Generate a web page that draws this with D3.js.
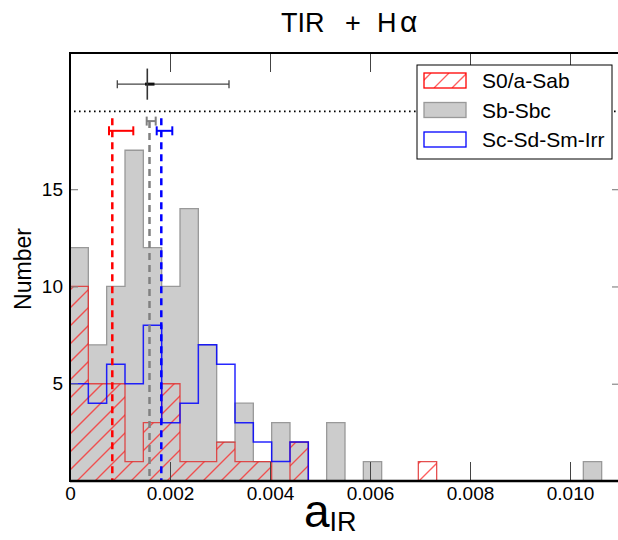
<!DOCTYPE html>
<html><head><meta charset="utf-8">
<script src="https://cdn.jsdelivr.net/npm/d3@7"></script>
<style>
body{margin:0;background:#fff}
svg{display:block}
text{font-family:"Liberation Sans",Arial,Helvetica,sans-serif;fill:#000}
</style>
</head><body><div id="chart"></div>
<script>
// ---------- data ----------
const categories = ["S0/a-Sab", "Sb-Sbc", "Sc-Sd-Sm-Irr"];
const nBins = 30;
const xDomain = [0, 0.011];
const yDomain = [0, 22];
const countsS0 = [10,5,5,1,3,5,1,1,2,1,1,0,2,0,0,0,0,0,0,1,0,0,0,0,0,0,0,0,0,0];
const countsSb = [12,7,10,17,12,10,14,7,2,4,1,3,2,0,3,0,1,0,0,0,0,0,0,0,0,0,0,0,1,0];
const countsSc = [5,4,6,5,8,3,4,7,6,3,2,1,2,0,0,0,0,0,0,0,0,0,0,0,0,0,0,0,0,0];
const meanValues = [0.000846, 0.00159, 0.001826];
const meanErrLow = [0.00078, 0.001534, 0.001734];
const meanErrHigh = [0.001266, 0.001714, 0.002046];
const meanErrY = [18.0, 18.5, 18.0];
const meanLineTop = [18.65, 18.5, 18.65];
const refPoint = {x: 0.001546, y: 20.4, xLow: 0.000946, xHigh: 0.00318, yErr: 0.8, xInLow: 0.0015, xInHigh: 0.00169};
const dottedLevel = 19;
const xTickValues = [0, 0.002, 0.004, 0.006, 0.008, 0.010];
const xTickLabels = ["0", "0.002", "0.004", "0.006", "0.008", "0.010"];
const yTickValues = [5, 10, 15];
const yTickLabels = ["5", "10", "15"];

// ---------- layout ----------
const W = 618, H = 540;
const L = 70, R = 620, T = 53, B = 481;
const svg = d3.select("#chart").append("svg").attr("width", W).attr("height", H);
const x = d3.scaleLinear().domain(xDomain).range([L, R]);
const y = d3.scaleLinear().domain(yDomain).range([B, T]);
const binW = (xDomain[1] - xDomain[0]) / nBins;
const edge = i => xDomain[0] + i * binW;
const HATCH_STEP = 18, HATCH_COLOR = "#ff1a1a";

const defs = svg.append("defs");
const clip = defs.append("clipPath").attr("id", "plotclip");
clip.append("rect").attr("x", L).attr("y", T).attr("width", R - L).attr("height", B - T);

function stepPoints(counts) {
  const pts = [[edge(0), 0]];
  counts.forEach((c, i) => { pts.push([edge(i), c]); pts.push([edge(i + 1), c]); });
  pts.push([edge(counts.length), 0]);
  return pts;
}
const line = d3.line().x(d => x(d[0])).y(d => y(d[1]));

// draws "/" hatch lines inside a clip region
function hatchInto(sel, clipId, x0, y0, x1, y1) {
  const hg = sel.append("g").attr("clip-path", `url(#${clipId})`);
  for (let s = Math.floor((x0 + y0) / HATCH_STEP) * HATCH_STEP; s <= x1 + y1 + HATCH_STEP; s += HATCH_STEP) {
    hg.append("line").attr("x1", s - y1).attr("y1", y1).attr("x2", s - y0).attr("y2", y0)
      .attr("stroke", HATCH_COLOR).attr("stroke-opacity", 0.7).attr("stroke-width", 1.3);
  }
  return hg;
}

const g = svg.append("g").attr("clip-path", "url(#plotclip)");

// Sb-Sbc filled gray
g.append("path").attr("d", line(stepPoints(countsSb)) + "Z")
  .attr("fill", "#cccccc").attr("stroke", "#999999").attr("stroke-width", 1.3);
// S0/a-Sab hatched
const s0Path = line(stepPoints(countsS0)) + "Z";
defs.append("clipPath").attr("id", "s0clip").append("path").attr("d", s0Path);
hatchInto(g, "s0clip", L, T, R, B);
g.append("path").attr("d", s0Path)
  .attr("fill", "none").attr("stroke", "#e03030").attr("stroke-opacity", 0.85).attr("stroke-width", 1.3);
// Sc-Sd-Sm-Irr step
g.append("path").attr("d", line(stepPoints(countsSc)))
  .attr("fill", "none").attr("stroke", "#0000ff").attr("stroke-opacity", 0.85).attr("stroke-width", 1.5);

// mean dashed lines and error bars
const meanColors = ["#ff0000", "#808080", "#0000ff"];
meanValues.forEach((m, i) => {
  g.append("line").attr("x1", x(m)).attr("x2", x(m)).attr("y1", y(meanLineTop[i])).attr("y2", y(0))
    .attr("stroke", meanColors[i]).attr("stroke-width", 2.5).attr("stroke-dasharray", "7,5");
  const ey = y(meanErrY[i]);
  g.append("line").attr("x1", x(meanErrLow[i])).attr("x2", x(meanErrHigh[i])).attr("y1", ey).attr("y2", ey)
    .attr("stroke", meanColors[i]).attr("stroke-width", 2);
  [meanErrLow[i], meanErrHigh[i]].forEach(v => {
    g.append("line").attr("x1", x(v)).attr("x2", x(v)).attr("y1", ey - 4.5).attr("y2", ey + 4.5)
      .attr("stroke", meanColors[i]).attr("stroke-width", 2);
  });
});

// dotted line
g.append("line").attr("x1", x(xDomain[0]) + 4).attr("x2", x(xDomain[1])).attr("y1", y(dottedLevel)).attr("y2", y(dottedLevel))
  .attr("stroke", "#000").attr("stroke-width", 1.6).attr("stroke-dasharray", "1.6,3.4");

// reference point with error bars
const ry = y(refPoint.y), rx = x(refPoint.x);
g.append("line").attr("x1", x(refPoint.xLow)).attr("x2", x(refPoint.xHigh)).attr("y1", ry).attr("y2", ry)
  .attr("stroke", "#444").attr("stroke-width", 1.3);
[refPoint.xLow, refPoint.xHigh].forEach(v => {
  g.append("line").attr("x1", x(v)).attr("x2", x(v)).attr("y1", ry - 4).attr("y2", ry + 4)
    .attr("stroke", "#444").attr("stroke-width", 1.3);
});
g.append("line").attr("x1", x(refPoint.xInLow)).attr("x2", x(refPoint.xInHigh)).attr("y1", ry).attr("y2", ry)
  .attr("stroke", "#111").attr("stroke-width", 3);
g.append("line").attr("x1", rx).attr("x2", rx).attr("y1", y(refPoint.y + refPoint.yErr)).attr("y2", y(refPoint.y - refPoint.yErr))
  .attr("stroke", "#333").attr("stroke-width", 1.6);

// ---------- axes ----------
const fmtX = v => xTickLabels[xTickValues.indexOf(v)];
const xb = svg.append("g").attr("transform", `translate(0,${B})`)
  .call(d3.axisBottom(x).tickValues(xTickValues).tickFormat(fmtX).tickSizeInner(-19).tickSizeOuter(0).tickPadding(6));
xb.select(".domain").remove();
xb.selectAll(".tick line").attr("stroke", "#444").attr("stroke-width", 1).filter(d => d === 0).remove();
xb.selectAll(".tick text").attr("font-size", 19).attr("font-family", "Liberation Sans, Arial, sans-serif");

const xt = svg.append("g").attr("transform", `translate(0,${T})`)
  .call(d3.axisTop(x).tickValues(xTickValues.filter(v => v > 0)).tickFormat("").tickSizeInner(-19).tickSizeOuter(0));
xt.select(".domain").remove();
xt.selectAll(".tick line").attr("stroke", "#444").attr("stroke-width", 1);

const fmtY = v => yTickLabels[yTickValues.indexOf(v)];
const yl = svg.append("g").attr("transform", `translate(${L},0)`)
  .call(d3.axisLeft(y).tickValues(yTickValues).tickFormat(fmtY).tickSizeInner(-8).tickSizeOuter(0).tickPadding(7));
yl.select(".domain").remove();
yl.selectAll(".tick line").attr("stroke", "#888").attr("stroke-width", 1.2);
yl.selectAll(".tick text").attr("font-size", 19).attr("font-family", "Liberation Sans, Arial, sans-serif");

const yr = svg.append("g").attr("transform", `translate(${R},0)`)
  .call(d3.axisRight(y).tickValues(yTickValues).tickFormat("").tickSizeInner(-8).tickSizeOuter(0));
yr.select(".domain").remove();
yr.selectAll(".tick line").attr("stroke", "#888").attr("stroke-width", 1.2);

// spines
svg.append("line").attr("x1", L).attr("x2", R).attr("y1", T).attr("y2", T).attr("stroke", "#000").attr("stroke-width", 2);
svg.append("line").attr("x1", L).attr("x2", R).attr("y1", B).attr("y2", B).attr("stroke", "#000").attr("stroke-width", 2.5);
svg.append("line").attr("x1", L).attr("x2", L).attr("y1", T - 1).attr("y2", B + 1).attr("stroke", "#000").attr("stroke-width", 2);
svg.append("line").attr("x1", R).attr("x2", R).attr("y1", T).attr("y2", B).attr("stroke", "#000").attr("stroke-width", 2);

// ---------- legend ----------
const lg = svg.append("g");
lg.append("rect").attr("x", 417).attr("y", 65).attr("width", 195).attr("height", 94)
  .attr("fill", "#fff").attr("stroke", "#000").attr("stroke-width", 1);
const legendStyles = [
  {fill: "none", stroke: "#ff0000"},
  {fill: "#cccccc", stroke: "#999999"},
  {fill: "#fff", stroke: "#0000ff"}
];
categories.forEach((c, i) => {
  const yy = 73 + i * 29.5;
  if (i === 0) {
    defs.append("clipPath").attr("id", "legclip").append("rect")
      .attr("x", 424).attr("y", yy).attr("width", 42).attr("height", 15);
    hatchInto(lg, "legclip", 424, yy, 466, yy + 15);
  }
  lg.append("rect").attr("x", 424).attr("y", yy).attr("width", 42).attr("height", 15)
    .attr("fill", legendStyles[i].fill).attr("stroke", legendStyles[i].stroke).attr("stroke-width", 1.3);
  lg.append("text").attr("x", 482).attr("y", yy + 15).attr("font-size", 21).text(c);
});

// ---------- titles ----------
const title = svg.append("text").attr("y", 32).attr("font-size", 27);
title.append("tspan").attr("x", 281).text("TIR");
title.append("tspan").attr("x", 345).text("+");
title.append("tspan").attr("x", 377).text("H");
title.append("tspan").attr("x", 400).attr("font-size", 30).text("α");

const xl = svg.append("text").attr("x", 304).attr("y", 527);
xl.append("tspan").attr("font-size", 46).text("a");
xl.append("tspan").attr("font-size", 27).attr("dy", 4).text("IR");

svg.append("text").attr("transform", `translate(31,${(T + B) / 2 + 2}) rotate(-90)`)
  .attr("text-anchor", "middle").attr("font-size", 23).text("Number");
</script>
</body></html>
